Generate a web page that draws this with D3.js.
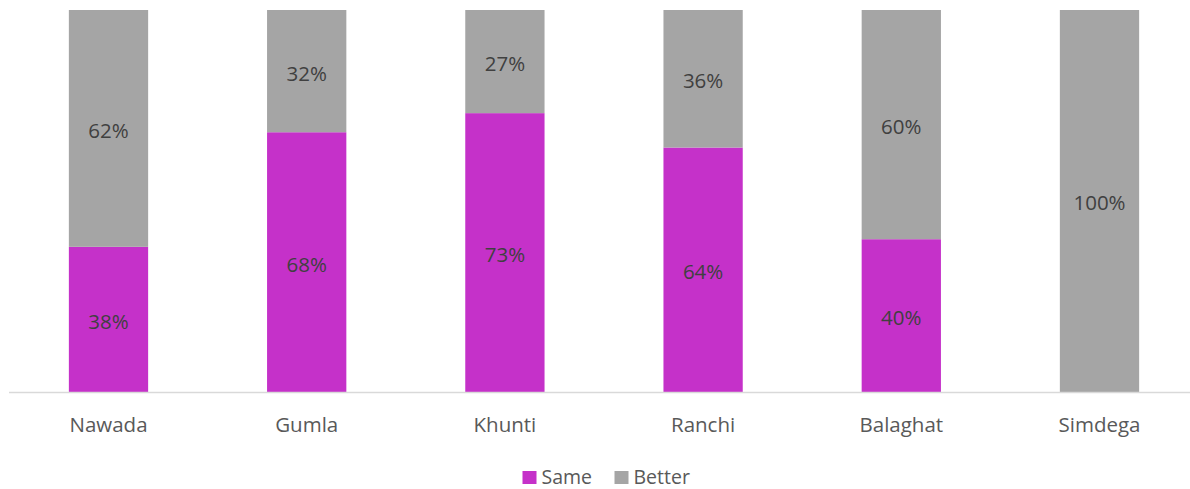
<!DOCTYPE html>
<html>
<head>
<meta charset="utf-8">
<script src="https://cdn.jsdelivr.net/npm/d3@7"></script>
<style>
  html, body { margin: 0; padding: 0; background: #fff; }
  svg { display: block; font-family: "Open Sans", sans-serif; }
</style>
</head>
<body>
<svg id="chart" width="1190" height="489"></svg>
<script>
const categories = ["Nawada", "Gumla", "Khunti", "Ranchi", "Balaghat", "Simdega"];
const seriesNames = ["Same", "Better"];
const sameValues = [38, 68, 73, 64, 40, 0];
const betterValues = [62, 32, 27, 36, 60, 100];
const seriesColors = ["#C531C9", "#A5A5A5"];

const svg = d3.select("#chart");
const x = d3.scaleBand().domain(categories).range([9.4, 1198.6]).paddingInner(0.6).paddingOuter(0.3);
const y = d3.scaleLinear().domain([0, 100]).range([392, 10]);

const rows = categories.map((c, i) => ({ cat: c, Same: sameValues[i], Better: betterValues[i] }));
const stacked = d3.stack().keys(seriesNames)(rows);

const layers = svg.selectAll("g.layer").data(stacked).join("g")
  .attr("class", "layer").attr("fill", (d, i) => seriesColors[i]);

layers.selectAll("rect").data(d => d).join("rect")
  .attr("x", d => x(d.data.cat))
  .attr("width", x.bandwidth())
  .attr("y", d => y(d[1]))
  .attr("height", d => y(d[0]) - y(d[1]));

// value labels
stacked.forEach(layer => {
  svg.append("g").selectAll("text").data(layer.filter(d => d[1] - d[0] > 0)).join("text")
    .attr("x", d => x(d.data.cat) + x.bandwidth() / 2)
    .attr("y", d => (y(d[0]) + y(d[1])) / 2 + 2)
    .attr("dy", "0.36em")
    .attr("text-anchor", "middle")
    .attr("font-size", 20.5)
    .attr("fill", "#404040")
    .text(d => (d[1] - d[0]) + "%");
});

// axis
const xAxis = d3.axisBottom(x).tickSize(0).tickPadding(0);
const ax = svg.append("g").attr("transform", "translate(0,392.5)").call(xAxis);
ax.select(".domain").remove();
ax.append("line").attr("x1", 9).attr("x2", 1190).attr("y1", 0).attr("y2", 0)
  .attr("stroke", "#D9D9D9").attr("stroke-width", 1.5);
ax.selectAll(".tick text")
  .attr("y", 39).attr("dy", 0)
  .attr("font-size", 20.5)
  .attr("font-family", "Open Sans, sans-serif")
  .attr("fill", "#595959");

// legend
const legendX = [522.5, 614.5];
const legend = svg.append("g");
seriesNames.forEach((name, i) => {
  legend.append("rect").attr("x", legendX[i]).attr("y", 471).attr("width", 14).attr("height", 13)
    .attr("fill", seriesColors[i]);
  legend.append("text").attr("x", legendX[i] + 19).attr("y", 483.5)
    .attr("font-size", 19.5).attr("fill", "#595959").text(name);
});
</script>
</body>
</html>
